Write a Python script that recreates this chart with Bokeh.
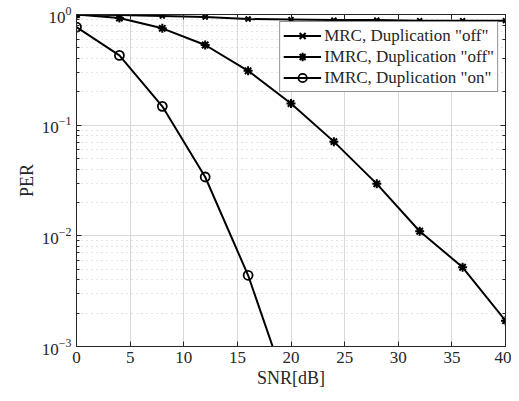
from bokeh.plotting import figure
from bokeh.models import Range1d, LinearAxis, LogAxis, FixedTicker, LogTicker
from bokeh.embed import file_html
from bokeh.resources import INLINE

snr = [0, 4, 8, 12, 16, 20, 24, 28, 32, 36, 40]
mrc_off = [1.0, 0.99, 0.97, 0.95, 0.91, 0.90, 0.89, 0.89, 0.88, 0.88, 0.88]
imrc_off = [1.0, 0.93, 0.75, 0.53, 0.31, 0.157, 0.071, 0.0295, 0.011, 0.0052, 0.00171]
snr_on = [0, 4, 8, 12, 16, 20]
imrc_on = [0.77, 0.427, 0.148, 0.034, 0.0044, 0.00033]
x_ticks = [0, 5, 10, 15, 20, 25, 30, 35, 40]

FONT = "Liberation Serif"
AX = "#262626"

p = figure(width=511, height=392, x_range=Range1d(0, 40), y_range=Range1d(1e-3, 1),
           y_axis_type="log", output_backend="svg", toolbar_location=None,
           min_border_left=76, min_border_right=6, min_border_top=14, min_border_bottom=46)
p.outline_line_color = AX
p.background_fill_color = "white"

p.line(snr, mrc_off, color="black", line_width=2, legend_label='MRC, Duplication "off"')
p.scatter(snr, mrc_off, marker="x", size=7, line_width=2, color="black", legend_label='MRC, Duplication "off"')
p.line(snr, imrc_off, color="black", line_width=2, legend_label='IMRC, Duplication "off"')
p.scatter(snr, imrc_off, marker="asterisk", size=9, line_width=2, color="black", legend_label='IMRC, Duplication "off"')
p.line(snr_on, imrc_on, color="black", line_width=2, legend_label='IMRC, Duplication "on"')
p.scatter(snr_on, imrc_on, marker="circle", size=9, line_width=1.8, line_color="black", fill_color=None, legend_label='IMRC, Duplication "on"')

xt = FixedTicker(ticks=x_ticks)
p.xaxis.ticker = xt
p.xaxis.axis_label = "SNR[dB]"
p.yaxis.axis_label = "PER"

for ax in p.xaxis + p.yaxis:
    ax.axis_line_color = AX
    ax.major_tick_line_color = AX
    ax.minor_tick_line_color = AX
    ax.major_tick_in = 5
    ax.major_tick_out = 0
    ax.minor_tick_in = 3
    ax.minor_tick_out = 0
    ax.major_label_text_font = FONT
    ax.major_label_text_font_size = "17px"
    ax.major_label_text_color = AX
    ax.axis_label_text_font = FONT
    ax.axis_label_text_font_size = "18px"
    ax.axis_label_text_font_style = "normal"
    ax.axis_label_text_color = AX
    ax.major_label_standoff = 5
    ax.axis_label_standoff = 2
p.xaxis.minor_tick_line_color = None

top = LinearAxis(ticker=FixedTicker(ticks=x_ticks), major_label_text_font_size="1px",
                 major_label_text_alpha=0,
                 major_tick_in=5, major_tick_out=0, minor_tick_line_color=None,
                 axis_line_color=AX, major_tick_line_color=AX, major_label_standoff=0)
p.add_layout(top, "above")
right = LogAxis(ticker=LogTicker(), major_label_text_font_size="1px",
                major_label_text_alpha=0,
                major_tick_in=5, major_tick_out=0, minor_tick_in=3, minor_tick_out=0,
                axis_line_color=AX, major_tick_line_color=AX, minor_tick_line_color=AX,
                major_label_standoff=0)
p.add_layout(right, "right")

p.xgrid.grid_line_color = "#d9d9d9"
p.ygrid.grid_line_color = "#d9d9d9"
p.ygrid.minor_grid_line_color = "#c8c8c8"
p.ygrid.minor_grid_line_dash = "1 4"

lg = p.legend[0]
lg.location = "top_right"
lg.margin = 7
lg.padding = 3
lg.spacing = 0
lg.label_text_font = FONT
lg.label_text_font_size = "17px"
lg.label_text_color = AX
lg.label_height = 21
lg.glyph_height = 21
lg.glyph_width = 38
lg.label_standoff = 3
lg.border_line_color = AX
lg.border_line_width = 1
lg.background_fill_alpha = 1

open("out.html", "w").write(file_html(p, INLINE))
